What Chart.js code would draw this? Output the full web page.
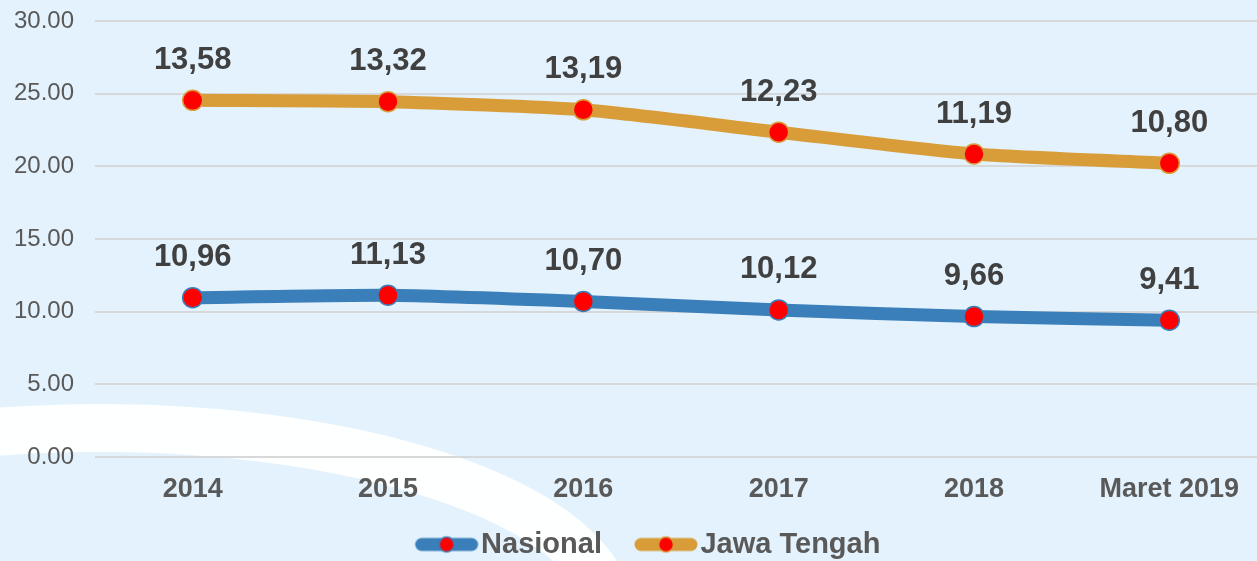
<!DOCTYPE html>
<html>
<head>
<meta charset="utf-8">
<script src="https://cdn.jsdelivr.net/npm/chart.js@4"></script>
<style>
  html, body { margin: 0; padding: 0; background: #e3f2fc; overflow: hidden; }
  #wrap { position: relative; width: 1270px; height: 561px; }
</style>
</head>
<body>
<div id="wrap"><canvas id="chart"></canvas></div>
<script>
  // data
  var categories = ['2014', '2015', '2016', '2017', '2018', 'Maret 2019'];
  var nasional = [10.96, 11.13, 10.70, 10.12, 9.66, 9.41];
  var jawaTengah = [13.58, 13.32, 13.19, 12.23, 11.19, 10.80];
  var yMin = 0, yMax = 30, yStep = 5;

  var colors = {
    bg: '#e3f2fc',
    blue: '#3a7fba',
    orange: '#d89c39',
    dot: '#ff0000',
    grid: '#d6d8da',
    tick: '#595959',
    label: '#404040'
  };
  var fontFamily = "'Liberation Sans', Arial, sans-serif";

  // legend icon: thick line with a red dot, pushed to the right side of
  // a wider transparent image so there is a gap before each item
  function legendIcon(color) {
    var c = document.createElement('canvas');
    c.width = 106; c.height = 20;
    var ctx = c.getContext('2d');
    ctx.strokeStyle = color;
    ctx.lineWidth = 13;
    ctx.lineCap = 'round';
    ctx.beginPath();
    ctx.moveTo(48, 10);
    ctx.lineTo(98, 10);
    ctx.stroke();
    ctx.beginPath();
    ctx.arc(73, 10, 7.5, 0, Math.PI * 2);
    ctx.fillStyle = colors.dot;
    ctx.fill();
    ctx.lineWidth = 1.5;
    ctx.strokeStyle = color;
    ctx.stroke();
    return c;
  }

  // background fill and the white swoosh behind the grid
  var backdrop = {
    id: 'backdrop',
    beforeDraw: function(chart) {
      var ctx = chart.ctx;
      ctx.save();
      ctx.fillStyle = colors.bg;
      ctx.fillRect(0, 0, chart.width, chart.height);
      ctx.beginPath();
      ctx.ellipse(100, 617, 510, 189, 0, Math.PI, Math.PI * 2);
      ctx.strokeStyle = 'rgba(255,255,255,0.95)';
      ctx.lineWidth = 48;
      ctx.stroke();
      ctx.restore();
    }
  };

  // value labels above each point (raw values, comma decimal)
  var valueLabels = {
    id: 'valueLabels',
    afterDatasetsDraw: function(chart) {
      var ctx = chart.ctx;
      ctx.save();
      ctx.font = 'bold 31px ' + fontFamily;
      ctx.fillStyle = colors.label;
      ctx.textAlign = 'center';
      ctx.textBaseline = 'middle';
      chart.data.datasets.forEach(function(ds, i) {
        var meta = chart.getDatasetMeta(i);
        meta.data.forEach(function(pt, j) {
          var txt = ds.data[j].toFixed(2).replace('.', ',');
          ctx.fillText(txt, pt.x, pt.y - 40);
        });
      });
      ctx.restore();
    }
  };

  new Chart(document.getElementById('chart'), {
    type: 'line',
    data: {
      labels: categories,
      datasets: [
        {
          label: 'Nasional',
          data: nasional,
          borderColor: colors.blue,
          borderWidth: 13,
          tension: 0.2,
          pointRadius: 10,
          pointBackgroundColor: colors.dot,
          pointBorderColor: colors.blue,
          pointBorderWidth: 1.5,
          fill: false
        },
        {
          label: 'Jawa Tengah',
          data: jawaTengah,
          borderColor: colors.orange,
          borderWidth: 13,
          tension: 0.2,
          pointRadius: 10,
          pointBackgroundColor: colors.dot,
          pointBorderColor: colors.orange,
          pointBorderWidth: 1.5,
          fill: false
        }
      ]
    },
    options: {
      responsive: true,
      maintainAspectRatio: false,
      animation: false,
      layout: { autoPadding: false, padding: { top: 21, right: 3, bottom: -8, left: 0 } },
      plugins: {
        legend: {
          position: 'bottom',
          labels: {
            usePointStyle: true,
            pointStyleWidth: 80,
            padding: 4,
            color: colors.tick,
            font: { family: fontFamily, size: 29, weight: 'bold' },
            generateLabels: function(chart) {
              return chart.data.datasets.map(function(ds, i) {
                return {
                  text: ds.label,
                  pointStyle: legendIcon(ds.borderColor),
                  fontColor: colors.tick,
                  datasetIndex: i,
                  lineWidth: 0,
                  hidden: false
                };
              });
            }
          }
        },
        tooltip: { enabled: false }
      },
      scales: {
        x: {
          offset: true,
          grid: { display: false, drawTicks: false },
          border: { display: false },
          ticks: {
            padding: 16,
            color: colors.tick,
            font: { family: fontFamily, size: 27, weight: 'bold' }
          },
          afterFit: function(scale) { scale.height = 69; }
        },
        y: {
          stacked: true,
          min: yMin,
          max: yMax,
          grid: { color: colors.grid, lineWidth: 2, drawTicks: false },
          border: { display: false },
          ticks: {
            stepSize: yStep,
            padding: 21,
            color: colors.tick,
            font: { family: fontFamily, size: 24 },
            callback: function(v) { return Number(v).toFixed(2); }
          },
          afterFit: function(scale) {
            scale.width = 95;
            scale.paddingTop = 0;
            scale.paddingBottom = 0;
          }
        }
      }
    },
    plugins: [backdrop, valueLabels]
  });
</script>
</body>
</html>
